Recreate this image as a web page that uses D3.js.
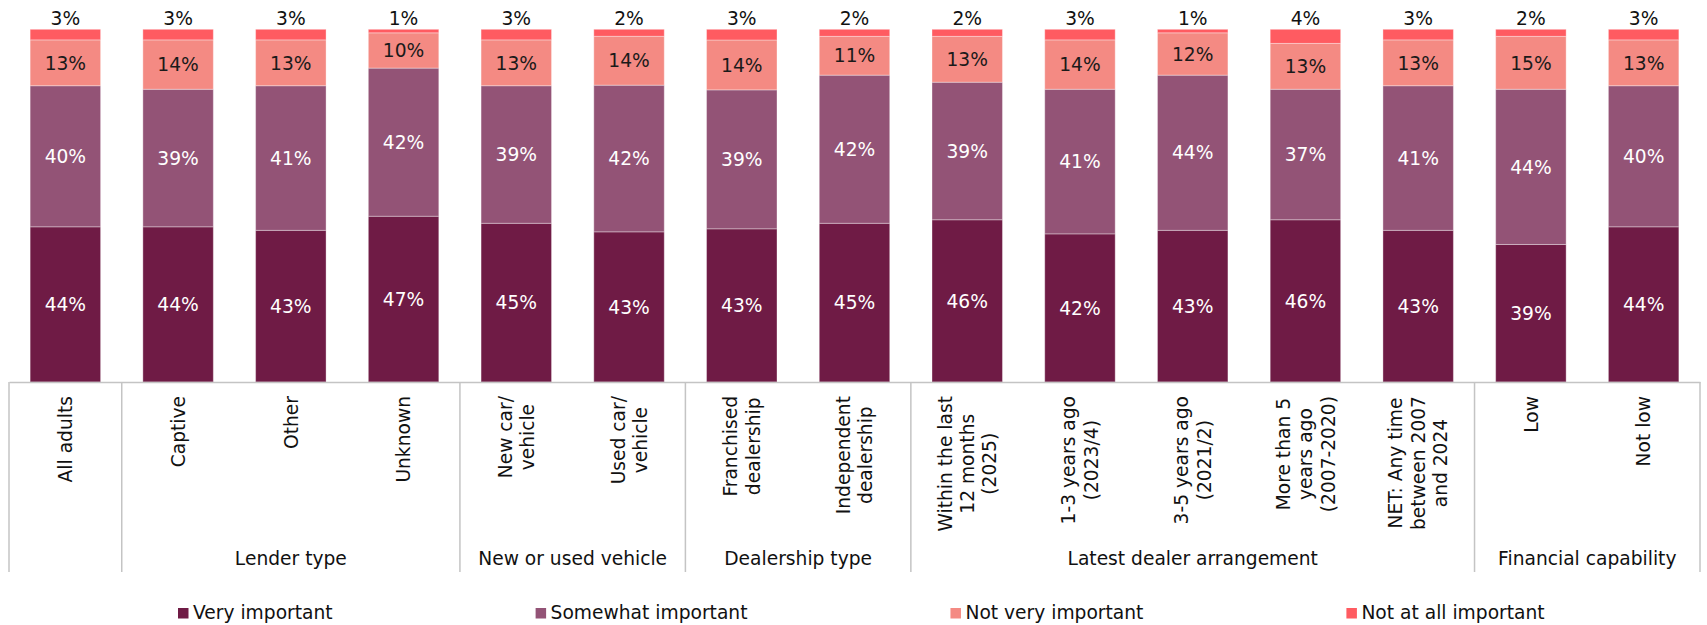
<!DOCTYPE html>
<html>
<head>
<meta charset="utf-8">
<script src="https://cdn.jsdelivr.net/npm/d3@7"></script>
<style>
  html, body { margin: 0; padding: 0; background: #fff; }
  svg text { font-family: "DejaVu Sans", Verdana, sans-serif; }
</style>
</head>
<body>
<svg id="chart" width="1707" height="625"></svg>
<script>
// Categories (line breaks mark where the axis label wraps)
const categories = [
  "All adults",
  "Captive",
  "Other",
  "Unknown",
  "New car/\nvehicle",
  "Used car/\nvehicle",
  "Franchised\ndealership",
  "Independent\ndealership",
  "Within the last\n12 months\n(2025)",
  "1-3 years ago\n(2023/4)",
  "3-5 years ago\n(2021/2)",
  "More than 5\nyears ago\n(2007-2020)",
  "NET: Any time\nbetween 2007\nand 2024",
  "Low",
  "Not low"
];

// Second-level axis groups and how many categories each spans
const groupNames = ["", "Lender type", "New or used vehicle", "Dealership type", "Latest dealer arrangement", "Financial capability"];
const groupSizes = [1, 3, 2, 2, 5, 2];

// Series values (%)
const seriesNames = ["Very important", "Somewhat important", "Not very important", "Not at all important"];
const veryImportant     = [44, 44, 43, 47, 45, 43, 43, 45, 46, 42, 43, 46, 43, 39, 44];
const somewhatImportant = [40, 39, 41, 42, 39, 42, 39, 42, 39, 41, 44, 37, 41, 44, 40];
const notVeryImportant  = [13, 14, 13, 10, 13, 14, 14, 11, 13, 14, 12, 13, 13, 15, 13];
const notAtAllImportant = [ 3,  3,  3,  1,  3,  2,  3,  2,  2,  3,  1,  4,  3,  2,  3];
const seriesValues = [veryImportant, somewhatImportant, notVeryImportant, notAtAllImportant];

const seriesColors = ["#6f1b45", "#935376", "#f48a83", "#ff5b61"];
const labelColors  = ["#ffffff", "#ffffff", "#1a1a1a", "#1a1a1a"];

const FONT = 18.67;
const LINE_H = 22.4;

const svg = d3.select("#chart");

const rows = categories.map((c, i) => {
  const r = { cat: c };
  seriesNames.forEach((s, si) => { r[s] = seriesValues[si][i]; });
  return r;
});

// 100% stacked: each column fills the full height
const stacked = d3.stack().keys(seriesNames).offset(d3.stackOffsetExpand)(rows);

const axisY = 382;
const x = d3.scaleBand()
  .domain(categories)
  .range([9, 1700])
  .paddingInner(0.375)
  .paddingOuter(0.1875);

const y = d3.scaleLinear().domain([0, 1]).range([axisY, 29.3]);

// Stacked bars
const layers = svg.append("g").selectAll("g")
  .data(stacked)
  .join("g")
  .attr("fill", (d, i) => seriesColors[i]);

layers.selectAll("rect")
  .data(d => d)
  .join("rect")
  .attr("x", d => x(d.data.cat))
  .attr("width", x.bandwidth())
  .attr("y", d => y(d[1]))
  .attr("height", d => y(d[0]) - y(d[1]))
  .attr("stroke", "#ffffff")
  .attr("stroke-opacity", 0.35)
  .attr("stroke-width", 1);

// Value labels: inside for the first three series, above the bar for the last
const labelG = svg.append("g").attr("font-size", FONT).attr("text-anchor", "middle");
stacked.forEach((layer, si) => {
  labelG.selectAll(null)
    .data(layer)
    .join("text")
    .attr("x", d => x(d.data.cat) + x.bandwidth() / 2)
    .attr("y", d => si === 3 ? y(d[1]) - 4 : (y(d[0]) + y(d[1])) / 2)
    .attr("dy", si === 3 ? 0 : "0.36em")
    .attr("fill", si === 3 ? "#111" : labelColors[si])
    .text(d => d.data[layer.key] + "%");
});

// Category axis baseline
const axisG = svg.append("g")
  .attr("transform", `translate(0,${axisY})`)
  .call(d3.axisBottom(x).tickSize(0).tickFormat(""));
axisG.select(".domain").attr("stroke", "#c4c4c4").attr("stroke-width", 1.5);

// Group separators spanning both label rows
const step = x.step();
const x0 = x.range()[0];
let boundaries = [0];
groupSizes.reduce((acc, n) => { boundaries.push(acc + n); return acc + n; }, 0);
svg.append("g").selectAll("line")
  .data(boundaries)
  .join("line")
  .attr("x1", d => x0 + d * step)
  .attr("x2", d => x0 + d * step)
  .attr("y1", axisY)
  .attr("y2", 572)
  .attr("stroke", "#c4c4c4")
  .attr("stroke-width", 1.5);

// Rotated, wrapped category labels (block top-aligned, lines centred)
const catG = svg.append("g").attr("font-size", FONT).attr("fill", "#111");
categories.forEach(c => {
  const lines = c.split("\n");
  const cx = x(c) + x.bandwidth() / 2;
  const g = catG.append("g").attr("transform", `translate(${cx},396) rotate(-90)`);
  const texts = lines.map((ln, i) =>
    g.append("text")
      .attr("y", (i - (lines.length - 1) / 2) * LINE_H)
      .attr("dy", "0.36em")
      .attr("text-anchor", "middle")
      .text(ln));
  const maxW = d3.max(texts, t => t.node().getComputedTextLength());
  texts.forEach(t => t.attr("x", -maxW / 2));
});

// Group labels
svg.append("g").attr("font-size", FONT).attr("fill", "#111").attr("text-anchor", "middle")
  .selectAll("text")
  .data(groupNames.map((g, i) => ({ name: g, from: boundaries[i], to: boundaries[i + 1] })))
  .join("text")
  .attr("x", d => x0 + (d.from + d.to) / 2 * step)
  .attr("y", 565)
  .text(d => d.name);

// Legend
const legend = svg.append("g").attr("font-size", FONT).attr("fill", "#111");
let lx = 178;
seriesNames.forEach((name, i) => {
  legend.append("rect")
    .attr("x", lx).attr("y", 608)
    .attr("width", 10.5).attr("height", 10.5)
    .attr("fill", seriesColors[i]);
  const t = legend.append("text")
    .attr("x", lx + 15).attr("y", 619)
    .text(name);
  lx = lx + 15 + t.node().getComputedTextLength() + 203;
});
</script>
</body>
</html>
